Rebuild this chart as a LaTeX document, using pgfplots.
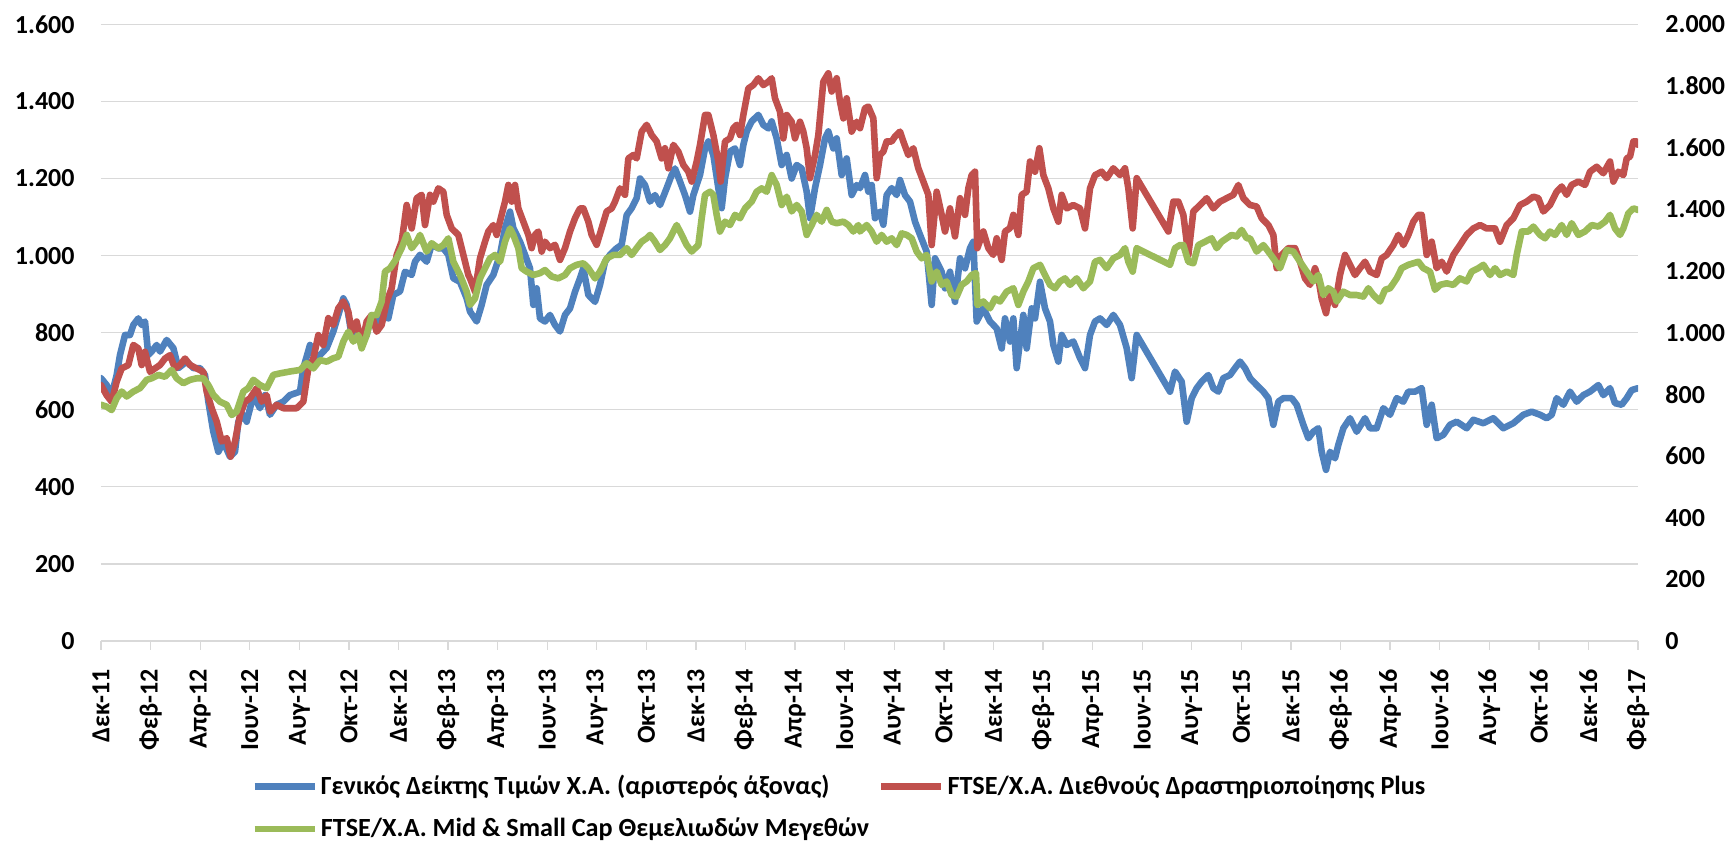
\documentclass[border=0pt]{standalone}
\usepackage{pgfplots}
\pgfplotsset{compat=1.18}
\usepackage{fontspec}
\setmainfont{Carlito}
\definecolor{cblue}{HTML}{4F81BD}
\definecolor{cred}{HTML}{C0504D}
\definecolor{cgreen}{HTML}{9BBB59}
\definecolor{cgrid}{HTML}{D9D9D9}

\pgfplotstableread{
x y
0 682
17 664
32 638
47 690
57 742
72 794
87 794
97 820
112 837
122 820
132 829
142 742
152 751
167 768
177 751
197 781
217 760
232 708
257 725
277 708
297 708
312 690
322 621
337 543
352 491
367 517
387 478
402 491
412 569
427 587
437 569
457 638
477 604
492 638
507 587
527 613
547 621
567 638
597 647
607 708
627 768
642 734
657 742
677 760
697 803
712 846
727 889
737 872
752 794
767 820
782 768
797 794
812 846
832 829
847 863
862 837
877 898
897 907
912 958
932 950
942 984
957 1002
977 984
992 1028
1012 1019
1027 1019
1042 1002
1057 941
1077 932
1097 889
1107 855
1127 829
1142 872
1157 924
1177 950
1197 1002
1212 1071
1227 1114
1237 1071
1257 1036
1272 1002
1287 967
1297 872
1307 915
1317 837
1332 829
1347 846
1362 820
1377 803
1392 846
1407 863
1422 906
1437 941
1447 967
1462 898
1482 880
1497 924
1512 984
1527 1002
1547 1019
1562 1028
1577 1105
1592 1123
1607 1149
1617 1200
1632 1183
1647 1140
1662 1157
1677 1131
1697 1175
1712 1209
1722 1226
1737 1192
1752 1157
1767 1114
1777 1157
1797 1209
1812 1278
1822 1296
1837 1261
1852 1175
1862 1123
1872 1200
1887 1270
1902 1278
1917 1235
1927 1287
1937 1322
1952 1348
1972 1365
1987 1339
2002 1330
2012 1348
2027 1304
2042 1235
2057 1261
2072 1200
2087 1235
2102 1226
2117 1166
2127 1097
2142 1175
2157 1235
2172 1304
2182 1322
2197 1278
2207 1304
2222 1209
2237 1252
2252 1157
2267 1183
2277 1175
2292 1209
2302 1166
2312 1183
2322 1097
2337 1114
2347 1080
2357 1157
2372 1175
2387 1157
2397 1196
2412 1157
2427 1140
2442 1088
2457 1054
2477 1010
2492 872
2502 993
2522 958
2532 915
2547 958
2562 880
2577 993
2592 967
2607 1019
2617 1036
2627 829
2647 863
2667 829
2687 811
2702 759
2712 837
2727 777
2737 837
2747 708
2757 777
2767 846
2777 759
2792 863
2802 837
2817 932
2832 863
2847 829
2857 768
2872 725
2882 794
2897 768
2917 777
2937 734
2952 708
2967 794
2982 829
2997 837
3017 820
3037 846
3057 820
3077 760
3092 682
3107 794
3207 647
3222 699
3242 673
3257 569
3272 630
3287 656
3302 673
3322 690
3337 656
3352 647
3367 682
3387 690
3402 708
3417 725
3432 708
3447 682
3467 664
3487 647
3502 630
3517 561
3532 621
3547 630
3572 630
3587 613
3607 561
3622 526
3637 543
3652 552
3662 491
3675 444
3687 491
3702 474
3712 509
3727 552
3747 578
3767 543
3792 578
3807 552
3827 552
3847 604
3867 587
3887 630
3907 621
3922 647
3942 647
3962 656
3977 561
3992 613
4007 526
4027 535
4047 561
4067 569
4097 552
4117 574
4147 565
4177 578
4207 552
4237 565
4267 587
4292 595
4317 587
4337 578
4352 587
4367 630
4387 613
4407 647
4427 621
4447 638
4467 647
4492 664
4507 638
4527 656
4542 617
4562 613
4577 630
4592 651
4611 656
}\blueidx

\pgfplotstableread{
x y
0 830
17 797
32 776
47 841
62 884
82 895
97 960
112 949
122 895
132 938
147 873
162 884
177 895
192 916
207 927
222 884
237 895
252 916
267 895
287 884
307 873
317 809
332 755
347 712
362 647
377 658
389 598
402 647
417 733
432 776
447 787
467 820
482 776
497 797
507 744
527 766
547 755
567 755
587 755
607 776
622 884
637 916
652 992
667 960
682 1047
697 1025
712 1079
727 1101
742 1068
752 1003
767 1036
782 960
797 1036
812 1057
827 1003
842 1025
857 1101
872 1144
887 1252
902 1295
917 1414
932 1338
947 1436
962 1447
972 1349
987 1447
997 1425
1012 1468
1027 1457
1037 1382
1052 1338
1072 1317
1087 1252
1102 1187
1107 1176
1122 1133
1137 1241
1152 1295
1162 1328
1177 1349
1187 1317
1202 1382
1212 1425
1222 1479
1232 1425
1242 1479
1252 1403
1267 1360
1282 1317
1292 1274
1302 1317
1312 1328
1322 1263
1332 1295
1347 1274
1362 1285
1377 1236
1392 1274
1407 1328
1422 1371
1437 1403
1447 1403
1462 1360
1472 1317
1487 1285
1502 1339
1517 1393
1532 1403
1542 1425
1557 1468
1572 1447
1582 1565
1597 1576
1607 1565
1622 1652
1637 1674
1652 1641
1667 1620
1682 1565
1692 1598
1702 1533
1717 1609
1732 1587
1747 1544
1762 1522
1772 1490
1787 1555
1797 1609
1812 1706
1822 1706
1837 1641
1852 1555
1859 1490
1872 1620
1887 1630
1897 1663
1907 1674
1917 1641
1927 1706
1942 1792
1957 1803
1972 1825
1987 1803
2002 1814
2012 1825
2022 1760
2037 1717
2047 1630
2057 1706
2072 1684
2082 1630
2097 1684
2107 1652
2117 1598
2127 1501
2142 1576
2152 1641
2167 1814
2182 1841
2192 1782
2207 1825
2217 1749
2227 1695
2237 1760
2252 1652
2267 1684
2277 1663
2292 1728
2302 1733
2317 1695
2327 1501
2337 1576
2347 1587
2357 1620
2372 1620
2382 1636
2397 1652
2407 1620
2422 1576
2437 1598
2452 1533
2467 1490
2482 1447
2492 1284
2507 1457
2522 1382
2532 1328
2547 1403
2562 1312
2577 1436
2592 1382
2602 1468
2612 1511
2622 1522
2629 1274
2647 1328
2662 1274
2677 1252
2687 1306
2702 1236
2712 1328
2727 1339
2737 1382
2752 1317
2762 1447
2777 1457
2787 1555
2802 1522
2815 1598
2827 1511
2842 1468
2857 1403
2872 1360
2882 1447
2897 1403
2917 1414
2937 1403
2952 1338
2967 1468
2982 1511
3002 1522
3017 1501
3037 1533
3057 1511
3072 1533
3082 1468
3095 1338
3107 1501
3202 1328
3217 1425
3232 1425
3247 1382
3262 1252
3277 1393
3297 1414
3317 1436
3337 1403
3357 1425
3377 1436
3397 1447
3412 1479
3427 1436
3447 1414
3467 1409
3482 1371
3502 1349
3517 1317
3527 1209
3542 1252
3562 1274
3582 1274
3597 1230
3612 1176
3627 1155
3642 1209
3652 1176
3662 1111
3675 1063
3687 1133
3702 1090
3717 1187
3732 1252
3747 1220
3762 1187
3777 1209
3792 1230
3807 1198
3827 1187
3842 1241
3857 1252
3877 1284
3892 1317
3907 1284
3922 1317
3937 1360
3952 1382
3962 1382
3977 1252
3992 1295
4007 1209
4022 1230
4037 1198
4057 1252
4077 1284
4097 1317
4117 1338
4137 1349
4157 1338
4182 1338
4197 1295
4217 1349
4237 1371
4257 1414
4277 1425
4297 1441
4312 1436
4327 1393
4347 1414
4367 1457
4382 1474
4397 1447
4412 1479
4432 1490
4452 1479
4467 1522
4487 1538
4507 1517
4527 1555
4537 1490
4552 1522
4567 1511
4577 1565
4587 1571
4597 1620
4607 1620
4611 1609
}\redidx

\pgfplotstableread{
x y
0 766
17 760
32 749
47 787
62 809
77 793
97 809
117 820
137 847
152 852
172 863
192 857
212 879
227 852
247 836
267 847
287 852
307 852
322 830
337 798
357 776
377 766
392 733
407 744
427 809
442 820
457 847
477 830
497 820
517 863
537 868
567 874
597 879
617 901
637 884
657 911
677 906
697 917
712 922
727 971
742 1003
757 971
772 992
782 949
797 992
812 1057
827 1057
842 1101
852 1198
867 1209
887 1241
902 1274
917 1317
932 1274
947 1295
957 1317
977 1263
992 1290
1012 1274
1027 1284
1042 1306
1057 1230
1077 1187
1097 1133
1107 1090
1122 1111
1137 1176
1152 1209
1167 1241
1182 1252
1197 1230
1212 1295
1227 1338
1237 1317
1252 1274
1262 1209
1277 1198
1297 1187
1317 1193
1332 1203
1352 1182
1372 1176
1392 1187
1407 1209
1427 1220
1447 1225
1462 1209
1482 1176
1497 1198
1517 1241
1537 1252
1557 1252
1577 1274
1592 1252
1607 1274
1622 1295
1637 1306
1647 1317
1662 1295
1677 1268
1692 1284
1707 1306
1727 1349
1742 1317
1757 1284
1772 1263
1792 1284
1802 1371
1812 1447
1827 1457
1837 1447
1847 1382
1857 1328
1872 1360
1887 1349
1902 1382
1917 1371
1932 1403
1952 1425
1967 1457
1982 1468
1997 1457
2012 1511
2027 1479
2042 1414
2057 1441
2072 1393
2087 1414
2102 1393
2117 1317
2132 1349
2147 1382
2162 1360
2177 1398
2192 1360
2207 1355
2227 1360
2242 1349
2257 1328
2272 1349
2277 1328
2297 1349
2312 1328
2327 1295
2342 1317
2357 1295
2372 1306
2387 1284
2402 1322
2417 1317
2432 1306
2447 1263
2462 1241
2477 1252
2492 1166
2507 1198
2522 1155
2537 1166
2552 1122
2567 1117
2582 1155
2597 1166
2612 1187
2625 1193
2629 1090
2647 1101
2667 1079
2682 1111
2697 1101
2717 1133
2737 1144
2752 1090
2767 1133
2782 1166
2797 1209
2817 1220
2832 1187
2847 1155
2862 1144
2877 1166
2892 1176
2907 1155
2927 1176
2947 1144
2967 1166
2982 1230
2997 1236
3017 1209
3037 1241
3057 1252
3072 1274
3082 1230
3095 1198
3107 1274
3207 1220
3222 1274
3237 1284
3247 1284
3262 1230
3277 1225
3292 1284
3312 1295
3332 1306
3347 1274
3362 1295
3377 1306
3392 1317
3407 1312
3422 1333
3437 1306
3447 1306
3467 1263
3487 1284
3502 1263
3517 1241
3537 1209
3557 1268
3577 1263
3597 1230
3617 1198
3637 1166
3652 1187
3667 1122
3682 1144
3697 1133
3707 1101
3727 1133
3747 1122
3767 1122
3787 1117
3802 1144
3817 1122
3837 1101
3852 1139
3867 1144
3887 1176
3902 1209
3922 1220
3937 1225
3952 1230
3967 1209
3987 1198
4002 1139
4017 1155
4037 1160
4057 1155
4077 1176
4097 1166
4112 1198
4132 1209
4147 1220
4167 1187
4182 1209
4197 1187
4217 1198
4237 1187
4247 1252
4262 1328
4282 1328
4297 1344
4317 1317
4332 1306
4347 1328
4362 1317
4382 1349
4397 1317
4412 1355
4432 1317
4452 1328
4472 1349
4492 1344
4512 1360
4527 1382
4542 1338
4557 1317
4567 1338
4582 1387
4597 1403
4611 1398
}\greenidx

\pgfplotsset{
  common/.style={
    scale only axis, width=768.5pt, height=308.35pt,
    xmin=0, xmax=4611, ymin=0,
    at={(50.5pt,101pt)}, anchor=south west,
    axis line style={draw=none},
    /pgf/number format/assume math mode=true,
    /pgf/number format/1000 sep={.},
    tick label style={font=\bfseries\fontsize{13}{15}\selectfont},
    ytick style={draw=none},
    clip=true,
  },
  sline/.style={line width=3.3pt, line join=round, line cap=round},
}

\begin{document}
\begin{tikzpicture}
\path[use as bounding box] (0,0) rectangle (864.5pt,421.5pt);
\begin{axis}[common,
  ymax=1600, ytick={0,200,...,1600},
  ymajorgrids, grid style={cgrid, line width=0.65pt},
  xtick={0,148.74,297.48,446.23,594.97,743.71,892.45,1041.19,1189.94,1338.68,1487.42,1636.16,1784.90,1933.65,2082.39,2231.13,2379.87,2528.61,2677.35,2826.10,2974.84,3123.58,3272.32,3421.06,3569.81,3718.55,3867.29,4016.03,4164.77,4313.52,4462.26,4611},
  xticklabels={Δεκ-11,Φεβ-12,Απρ-12,Ιουν-12,Αυγ-12,Οκτ-12,Δεκ-12,Φεβ-13,Απρ-13,Ιουν-13,Αυγ-13,Οκτ-13,Δεκ-13,Φεβ-14,Απρ-14,Ιουν-14,Αυγ-14,Οκτ-14,Δεκ-14,Φεβ-15,Απρ-15,Ιουν-15,Αυγ-15,Οκτ-15,Δεκ-15,Φεβ-16,Απρ-16,Ιουν-16,Αυγ-16,Οκτ-16,Δεκ-16,Φεβ-17},
  xtick pos=left, tick align=outside, major tick length=4.35pt,
  xtick style={cgrid, line width=0.65pt},
  xticklabel style={yshift=-9.5pt, rotate=90, anchor=east, inner sep=0pt},
  yticklabel style={anchor=east, inner sep=0pt, xshift=-8.65pt},
  legend columns=2, legend cell align=left,
  legend style={at={(axis description cs:0.0975,-0.270)}, anchor=west,
    draw=none, fill=none, inner sep=0pt,
    font=\bfseries\fontsize{13.1}{15}\selectfont,
    nodes={inner xsep=1.5pt, inner ysep=1pt},
    row sep=8.3pt,
    /tikz/every even column/.append style={column sep=3pt}},
  legend image code/.code={\draw[#1, line cap=butt] (0pt,0pt) -- (30pt,0pt);},
]
\addplot[sline, cblue] table {\blueidx};
\addlegendentry{Γενικός Δείκτης Τιμών Χ.Α. (αριστερός άξονας)}
\addlegendimage{sline, cred}
\addlegendentry{FTSE/Χ.Α. Διεθνούς Δραστηριοποίησης Plus}
\addlegendimage{sline, cgreen}
\addlegendentry{FTSE/Χ.Α. Mid \& Small Cap Θεμελιωδών Μεγεθών}
\end{axis}
\begin{axis}[common,
  ymax=2000, ytick={0,200,...,2000},
  xtick=\empty,
  yticklabel pos=right,
  yticklabel style={anchor=west, inner sep=0pt, xshift=13.5pt},
]
\addplot[sline, cred] table {\redidx};
\addplot[sline, cgreen] table {\greenidx};
\end{axis}
\end{tikzpicture}
\end{document}
